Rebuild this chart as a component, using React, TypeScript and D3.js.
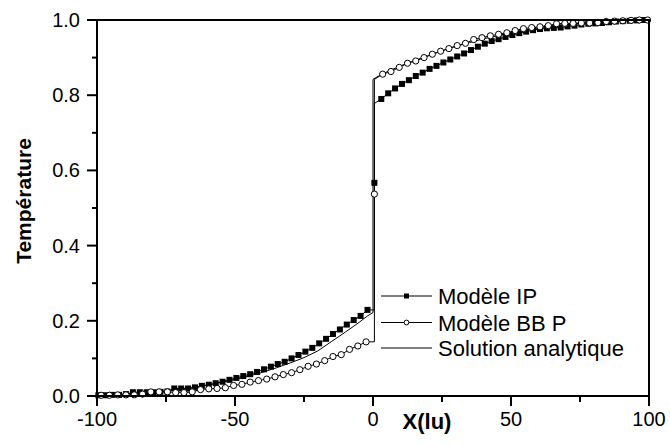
import React from "react";
import * as d3 from "d3";

// ---- data ----
const xMajorTicks = [-100, -50, 0, 50, 100];
const xMinorTicks = [-75, -25, 25, 75];
const yMajorTicks = [0, 0.2, 0.4, 0.6, 0.8, 1.0];
const yMinorTicks = [0.1, 0.3, 0.5, 0.7, 0.9];

// Modèle IP (lattice step 2.5 lu); index 40 is the interface node
const ipX = d3.range(-40, 40).map((k) => 0.5 + 2.5 * k);
const ipT = [
  0.002, 0.002, 0.003, 0.003, 0.005, 0.01, 0.01, 0.01, 0.01, 0.011,
  0.012, 0.02, 0.02, 0.02, 0.023, 0.027, 0.03, 0.034, 0.038, 0.043,
  0.048, 0.053, 0.058, 0.064, 0.071, 0.078, 0.085, 0.091, 0.1, 0.109,
  0.118, 0.128, 0.14, 0.152, 0.165, 0.177, 0.19, 0.202, 0.213, 0.229,
  0.567,
  0.79, 0.805, 0.818, 0.83, 0.84, 0.851, 0.86, 0.87, 0.878, 0.887,
  0.895, 0.903, 0.911, 0.92, 0.929, 0.937, 0.944, 0.949, 0.955, 0.96,
  0.965, 0.969, 0.973, 0.976, 0.978, 0.979, 0.98, 0.983, 0.985, 0.988,
  0.99, 0.991, 0.992, 0.994, 0.996, 0.997, 0.998, 0.999, 1.0,
];
// values on each side of the interface (line only)
const ipJump = [0.229, 0.778];

// Modèle BB P (lattice step 3 lu); index 33 is the interface node
const bbX = d3.range(-33, 34).map((k) => 0.5 + 3 * k);
const bbT = [
  0.002, 0.002, 0.003, 0.003, 0.003, 0.005, 0.011, 0.011, 0.011, 0.009,
  0.009, 0.011, 0.017, 0.019, 0.02, 0.022, 0.028, 0.031, 0.037, 0.041,
  0.045, 0.051, 0.057, 0.062, 0.07, 0.079, 0.085, 0.094, 0.105, 0.11,
  0.124, 0.133, 0.144,
  0.537,
  0.856, 0.863, 0.874, 0.885, 0.891, 0.9, 0.909, 0.917, 0.924, 0.932,
  0.938, 0.948, 0.953, 0.958, 0.962, 0.966, 0.972, 0.977, 0.98, 0.982,
  0.985, 0.99, 0.991, 0.991, 0.992, 0.992, 0.993, 0.996, 0.997, 0.998,
  0.999, 1.0, 1.0,
];
const bbJump = [0.144, 0.842];

// Solution analytique
const anX = [
  -100, -95, -90, -85, -80, -75, -70, -65, -60, -55, -50, -45, -40, -35, -30,
  -25, -20, -15, -10, -5, -2, 0, 0, 2, 5, 10, 15, 20, 25, 30, 35, 40, 45, 50,
  55, 60, 65, 70, 75, 80, 85, 90, 95, 100,
];
const anT = [
  0.002, 0.003, 0.005, 0.007, 0.01, 0.014, 0.018, 0.023, 0.029, 0.036, 0.044,
  0.053, 0.063, 0.075, 0.088, 0.102, 0.12, 0.145, 0.17, 0.196, 0.213, 0.222,
  0.842, 0.851, 0.862, 0.878, 0.892, 0.905, 0.918, 0.93, 0.94, 0.95, 0.958,
  0.966, 0.973, 0.979, 0.984, 0.988, 0.991, 0.994, 0.996, 0.998, 0.999, 1.0,
];

const legendLabels = ["Modèle IP", "Modèle BB P", "Solution analytique"];

// ---- layout ----
const W = 670;
const H = 445;
const L = 97, R = 649, T = 20, B = 396;
const FONT = "'Liberation Sans', Arial, Helvetica, sans-serif";

type P = [number, number];

function withJump(pts: P[], mid: number, jump: number[]): P[] {
  const xm = pts[mid][0];
  return [
    ...pts.slice(0, mid),
    [xm, jump[0]],
    pts[mid],
    [xm, jump[1]],
    ...pts.slice(mid + 1),
  ];
}

export default function App() {
  const x = d3.scaleLinear().domain([-100, 100]).range([L, R]);
  const y = d3.scaleLinear().domain([0, 1]).range([B, T]);
  const line = d3
    .line<P>()
    .x((d) => x(d[0]))
    .y((d) => y(d[1]));

  const ip: P[] = ipX.map((v, i) => [v, ipT[i]]);
  const bb: P[] = bbX.map((v, i) => [v, bbT[i]]);
  const an: P[] = anX.map((v, i) => [v, anT[i]]);
  const ipLine = withJump(ip, 40, ipJump);
  const bbLine = withJump(bb, 33, bbJump);

  const sq = 6;
  const legY = [296, 322.5, 348];

  return (
    <svg
      width={W}
      height={H}
      style={{ position: "absolute", left: 0, top: 0, background: "#fff" }}
      fontFamily={FONT}
    >
      <rect x={0} y={0} width={W} height={H} fill="#fff" />
      {/* analytic */}
      <path d={line(an) || ""} fill="none" stroke="#000" strokeWidth={1} />
      {/* IP */}
      <path d={line(ipLine) || ""} fill="none" stroke="#000" strokeWidth={1} />
      {ip.map((d, i) => (
        <rect
          key={"ip" + i}
          x={x(d[0]) - sq / 2}
          y={y(d[1]) - sq / 2}
          width={sq}
          height={sq}
          fill="#000"
        />
      ))}
      {/* BB P */}
      <path d={line(bbLine) || ""} fill="none" stroke="#000" strokeWidth={1} />
      {bb.map((d, i) => (
        <circle
          key={"bb" + i}
          cx={x(d[0])}
          cy={y(d[1])}
          r={3.1}
          fill="#fff"
          stroke="#000"
          strokeWidth={1}
        />
      ))}

      {/* frame */}
      <rect x={L} y={T} width={R - L} height={B - T} fill="none" stroke="#000" strokeWidth={2} />

      {/* y ticks */}
      {yMajorTicks.map((v) => (
        <g key={"ym" + v}>
          <line x1={L - 10} x2={L} y1={y(v)} y2={y(v)} stroke="#000" strokeWidth={2} />
          <text x={L - 17} y={y(v) + 7} fontSize={20} textAnchor="end">
            {v.toFixed(1)}
          </text>
        </g>
      ))}
      {yMinorTicks.map((v) => (
        <line key={"yn" + v} x1={L - 5} x2={L} y1={y(v)} y2={y(v)} stroke="#000" strokeWidth={2} />
      ))}

      {/* x ticks */}
      {xMajorTicks.map((v) => (
        <g key={"xm" + v}>
          <line x1={x(v)} x2={x(v)} y1={B} y2={B + 10} stroke="#000" strokeWidth={2} />
          <text x={x(v)} y={B + 30} fontSize={20} textAnchor="middle">
            {String(v)}
          </text>
        </g>
      ))}
      {xMinorTicks.map((v) => (
        <line key={"xn" + v} x1={x(v)} x2={x(v)} y1={B} y2={B + 6} stroke="#000" strokeWidth={2} />
      ))}

      {/* axis titles */}
      <text x={427} y={429} fontSize={22} fontWeight="bold" textAnchor="middle">
        X(lu)
      </text>
      <text
        transform={`translate(31,201) rotate(-90)`}
        fontSize={21}
        fontWeight="bold"
        textAnchor="middle"
      >
        Température
      </text>

      {/* legend */}
      {legendLabels.map((lab, i) => (
        <g key={"lg" + i}>
          <line x1={381} x2={432} y1={legY[i]} y2={legY[i]} stroke="#000" strokeWidth={1} />
          {i === 0 && <rect x={404} y={legY[i] - 2.5} width={5} height={5} fill="#000" />}
          {i === 1 && (
            <circle cx={406.5} cy={legY[i]} r={2.4} fill="#fff" stroke="#000" strokeWidth={1} />
          )}
          <text x={438} y={legY[i] + 8} fontSize={22}>
            {lab}
          </text>
        </g>
      ))}
    </svg>
  );
}
